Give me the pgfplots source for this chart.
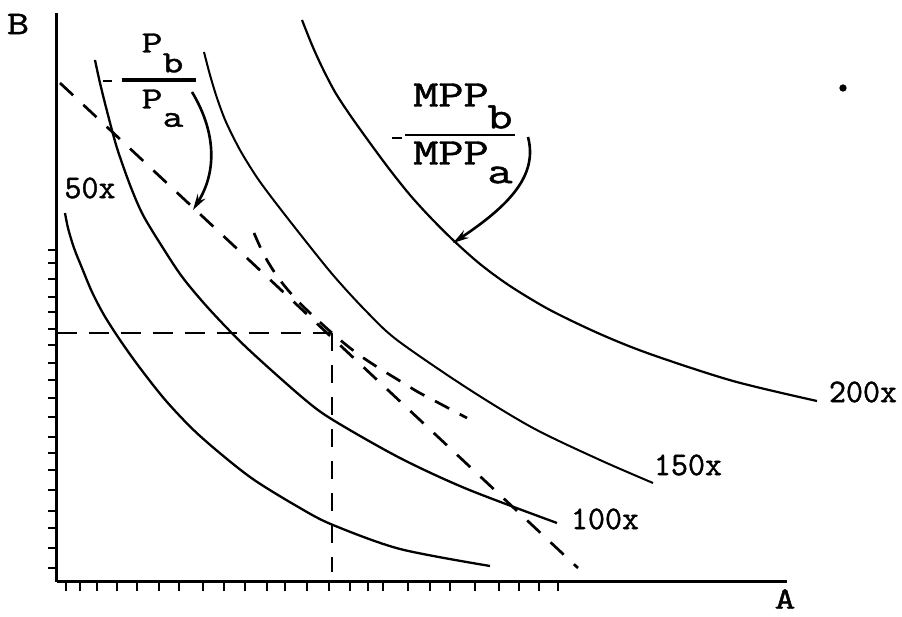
\documentclass[border=0pt]{standalone}
\usepackage{fontspec}
\newfontfamily\tw{Latin Modern Mono}[FakeBold=1.2]
\usepackage{pgfplots}
\pgfplotsset{compat=1.18}
\usetikzlibrary{arrows.meta}
\newcommand\wide[1]{\scalebox{1.3}[1]{#1}}

% isoquants (A, B in drawing units)
\pgfplotstableread{
x y
8 369
11 354
17 334
25 314
35 290
47 267
63 242
83 214
110 180
143 146
193 105
243 74
276 57
343 33
433 16
}\isoA
\pgfplotstableread{
x y
38 522
43 499
51 467
60 434
73 397
86 367
106 334
126 304
153 272
190 234
246 184
276 162
343 124
410 93
500 59
}\isoB
\pgfplotstableread{
x y
147 530
153 507
160 484
169 460
183 432
199 406
215 384
243 348
276 307
308 272
340 242
410 194
476 154
543 122
596 99
}\isoC
\pgfplotstableread{
x y
245 562
255 537
265 515
278 490
293 467
313 439
333 412
353 387
373 365
396 342
423 318
453 296
493 272
543 248
593 228
676 201
760 181
}\isoD
\pgfplotstableread{
x y
197 349
206 329
216 312
226 298
238 284
253 269
275 249
293 234
308 223
325 212
343 201
361 190
378 181
393 173
410 164
}\isoM

\begin{document}
\begin{tikzpicture}
\begin{axis}[
  width=365pt, height=284.5pt, scale only axis,
  xmin=0, xmax=730, ymin=0, ymax=569,
  axis lines*=left,
  axis line style={line width=1.5pt},
  xtick={9,23,40,60,80,102,122,146,167,188,210,228,250,272,293,311,326,351,373,393,418,442,462,482,501},
  ytick={14,34,54,71,92,112,129,145,165,184,202,219,237,253,270,285,303,319,332},
  xticklabels={}, yticklabels={},
  tick align=outside, major tick length=4.5pt,
  tick style={line width=1.1pt, black},
  clip=false,
]
\path (axis cs:-57,-35) rectangle (axis cs:845,582);

\addplot[line width=1.15pt, smooth] table {\isoA};
\addplot[line width=1.15pt, smooth] table {\isoB};
\addplot[line width=1pt, smooth] table {\isoC};
\addplot[line width=1.1pt, smooth] table {\isoD};
\addplot[line width=1.35pt, smooth, dash pattern=on 8pt off 6pt] table {\isoM};

% price line
\addplot[line width=1.35pt, dash pattern=on 9pt off 7pt] coordinates {(3,499) (521,14)};
% optimum
\addplot[line width=1.4pt, dash pattern=on 10pt off 6pt] coordinates {(0,249) (275,249)};
\addplot[line width=1.4pt, dash pattern=on 9pt off 7pt] coordinates {(275,249) (275,10)};

\addplot[only marks, mark=*, mark size=1.6pt] coordinates {(786,494)};

\begin{scope}[every node/.style={inner sep=0pt}]
\node[font=\tw\fontsize{16.5}{18}\selectfont] at (axis cs:-39,558) {\wide{B}};
\node[font=\tw\fontsize{15.5}{17}\selectfont] at (axis cs:728,-17) {\wide{A}};

\node[font=\tw\fontsize{16.5}{18}\selectfont] at (axis cs:33,394) {50x};
\node[font=\tw\fontsize{16.5}{18}\selectfont] at (axis cs:548,63) {100x};
\node[font=\tw\fontsize{16.5}{18}\selectfont] at (axis cs:631,117) {150x};
\node[font=\tw\fontsize{16.5}{18}\selectfont] at (axis cs:806,190) {200x};
\end{scope}

% -Pb/Pa
\begin{scope}[every node/.style={font=\tw\fontsize{15.5}{17}\selectfont, inner sep=0pt}]
\draw[line width=1.4pt] (axis cs:46,501) -- (axis cs:55,501);
\draw[line width=1.6pt] (axis cs:65,502) -- (axis cs:139,502);
\node at (axis cs:95,539) {\wide{P}};
\node at (axis cs:116,519) {\wide{b}};
\node at (axis cs:95,483) {\wide{P}};
\node at (axis cs:116,462) {\wide{a}};
\end{scope}
% -MPPb/MPPa
\begin{scope}[every node/.style={font=\tw\fontsize{18.8}{20}\selectfont, inner sep=0pt}]
\draw[line width=1.4pt] (axis cs:335,444) -- (axis cs:345,444);
\draw[line width=1.3pt] (axis cs:348,447) -- (axis cs:458,447);
\node at (axis cs:394,487) {\wide{MPP}};
\node at (axis cs:443,465) {\wide{b}};
\node at (axis cs:394,429) {\wide{MPP}};
\node at (axis cs:443,407) {\wide{a}};
\end{scope}

\draw[line width=1.3pt, -{Stealth[length=8pt,width=4.5pt]}]
  (axis cs:135,490) .. controls (axis cs:158,452) and (axis cs:161,412) .. (axis cs:136,372);
\draw[line width=1.3pt, -{Stealth[length=8pt,width=4.5pt]}]
  (axis cs:471,445) .. controls (axis cs:481,407) and (axis cs:453,377) .. (axis cs:396,339);
\end{axis}
\end{tikzpicture}
\end{document}
